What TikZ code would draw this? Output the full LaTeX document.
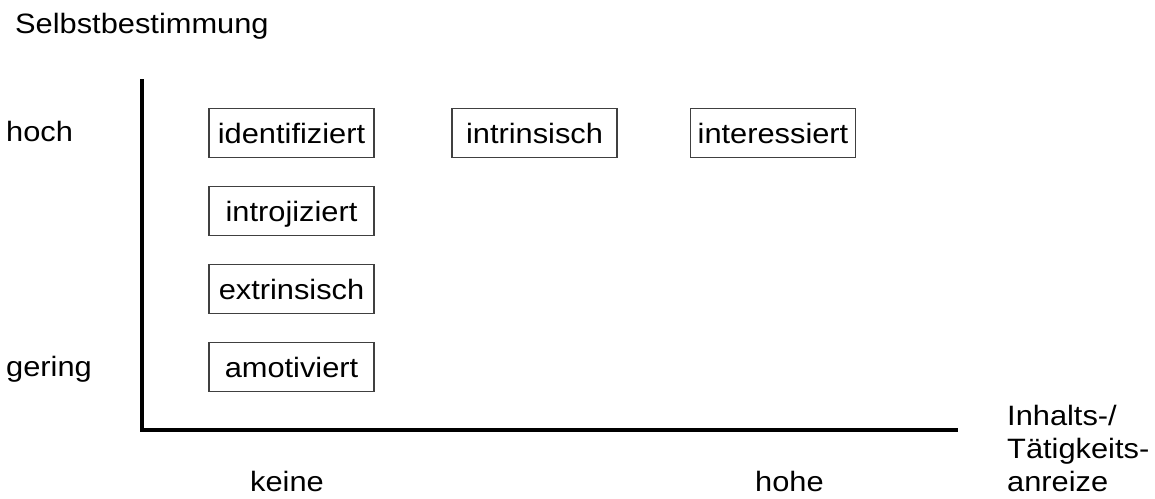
\documentclass[tikz,border=0pt]{standalone}
\usepackage{fontspec}
\setmainfont{Liberation Sans}[FakeStretch=1.1]
\begin{document}
\begin{tikzpicture}[x=1pt,y=-1pt,
  lbl/.style={font=\fontsize{28}{33.3}\selectfont, inner sep=0pt, anchor=base west},
  cat/.style={draw=black!75, line width=1.3pt, minimum width=165pt, minimum height=48.5pt,
    inner sep=0pt, text height=21pt, text depth=1pt, font=\fontsize{28}{33.3}\selectfont},
  axis/.style={line width=4.5pt, line join=miter, line cap=butt}]
\useasboundingbox (0,0) rectangle (1155,498);
% axes
\coordinate (top) at (142,79);
\coordinate (origin) at (142,430);
\coordinate (right) at (958,430);
\draw[axis] (top) -- (origin) -- (right);
% axis labels
\node[lbl] (selbst) at (15,33.3) {Selbstbestimmung};
\node[lbl] (hoch) at (6,141.7) {hoch};
\node[lbl] (gering) at (6,376.7) {gering};
\node[lbl] (keine) at (250,491) {keine};
\node[lbl] (hohe) at (755,491) {hohe};
\node[lbl] (anreiz) at (1007,425) {\begin{tabular}[t]{@{}l@{}}Inhalts-/\\Tätigkeits-\\anreize\end{tabular}};
% categories
\node[cat] (ident) at (291.5,133) {identifiziert};
\node[cat] (intrin) at (534.5,133) {intrinsisch};
\node[cat] (inter) at (773,133) {interessiert};
\node[cat] (introj) at (291.5,211) {introjiziert};
\node[cat] (extrin) at (291.5,289) {extrinsisch};
\node[cat] (amot) at (291.5,367) {amotiviert};
\end{tikzpicture}
\end{document}
